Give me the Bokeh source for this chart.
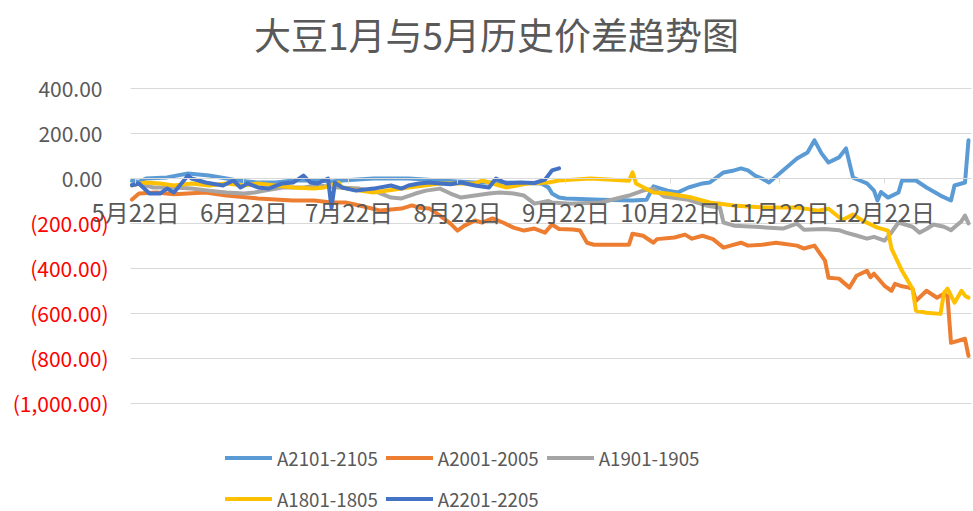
from bokeh.plotting import figure
from bokeh.models import (FixedTicker, NumeralTickFormatter, LinearAxis, Range1d,
                          Label, Legend, LegendItem)
from bokeh.embed import file_html
from bokeh.resources import INLINE

# ---- data (x = days after 5月22日) ----
month_ticks = [0, 31, 61, 92, 123, 153, 184, 214]
month_labels = ["5月22日", "6月22日", "7月22日", "8月22日", "9月22日",
                "10月22日", "11月22日", "12月22日"]
pos_ticks = [0, 200, 400]
neg_ticks = [-1000, -800, -600, -400, -200]

x_2101 = [-1, 1, 3, 9, 15, 21, 26, 29, 35, 40, 45, 51, 56, 59, 68, 78, 87, 97, 106, 116,
          118, 119, 121, 123, 133, 142, 146, 148, 152, 155, 158, 162, 164, 166, 168, 171,
          173, 175, 177, 179, 181, 185, 189, 192, 194, 196, 198, 201, 203, 205, 207, 209,
          211, 212, 213, 215, 218, 219, 223, 226, 230, 233, 234, 237, 238]
y_2101 = [-10, -15, 0, 5, 22, 13, 0, -9, -18, -18, -9, -9, -13, -9, 0, 0, -9, -18, -18, -22,
          -40, -67, -85, -89, -95, -98, -95, -35, -54, -62, -40, -22, -18, 4, 27, 36,
          45, 36, 13, 0, -18, 36, 89, 116, 170, 112, 71, 94, 134, 4, -9, -22,
          -54, -98, -60, -85, -62, -9, -9, -40, -76, -98, -31, -18, 170]

x_2001 = [-1, 1, 6, 11, 20, 26, 35, 45, 51, 56, 60, 64, 70, 76, 79, 81, 84, 87, 90, 92,
          94, 97, 99, 102, 105, 108, 111, 114, 117, 119, 121, 125, 127, 129, 131, 141, 142,
          145, 148, 149, 154, 157, 159, 162, 165, 168, 170, 173, 175, 179, 183, 189, 191,
          194, 197, 198, 201, 204, 206, 209, 210, 211, 214, 216, 217, 219, 221, 222, 223,
          226, 229, 231, 232, 233, 237, 238]
y_2001 = [-94, -67, -62, -70, -62, -76, -89, -98, -98, -107, -107, -120, -143, -134, -120,
          -130, -134, -165, -201, -232, -210, -187, -196, -178, -196, -219, -232, -223, -241,
          -205, -225, -227, -232, -286, -295, -295, -246, -255, -286, -270, -263, -250, -268,
          -255, -270, -308, -299, -286, -299, -295, -286, -299, -312, -299, -366, -442, -446,
          -486, -433, -411, -440, -424, -478, -500, -469, -480, -486, -491, -545, -500, -531,
          -513, -525, -732, -714, -790]

x_1901 = [-1, 1, 5, 11, 16, 21, 26, 31, 34, 37, 42, 48, 52, 58, 64, 68, 73, 76, 80, 83,
          87, 90, 93, 97, 101, 104, 108, 111, 114, 118, 119, 124, 133, 141, 145, 148, 151,
          158, 163, 167, 168, 171, 177, 181, 185, 189, 191, 197, 201, 203, 206, 209, 211,
          214, 216, 218, 222, 224, 226, 228, 231, 233, 236, 237, 238]
y_1901 = [-30, -22, -40, -40, -45, -54, -62, -67, -62, -54, -40, -40, -31, -40, -45, -54,
          -85, -89, -67, -54, -45, -67, -85, -76, -67, -62, -67, -76, -112, -100, -107, -112,
          -107, -76, -54, -45, -80, -95, -120, -130, -196, -210, -215, -219, -223, -201,
          -228, -225, -230, -241, -254, -268, -260, -277, -240, -196, -215, -241, -225,
          -205, -215, -230, -190, -165, -200]

x_1801 = [-1, 3, 7, 11, 16, 21, 26, 31, 35, 40, 45, 51, 54, 58, 59, 64, 68, 78, 87, 97,
          99, 106, 112, 118, 121, 125, 130, 141, 142, 143, 148, 152, 159, 164, 171, 175,
          180, 189, 195, 198, 202, 205, 208, 212, 215, 216, 219, 222, 223, 226, 230, 231,
          232, 234, 236, 237, 238]
y_1801 = [-30, -18, -22, -31, -22, -31, -22, -31, -22, -31, -40, -45, -40, -18, -40, -54,
          -62, -40, -22, -22, -9, -40, -22, -18, -9, -5, 0, -10, 27, -22, -62, -67, -85,
          -107, -120, -125, -129, -129, -143, -135, -185, -160, -190, -219, -232, -312,
          -411, -491, -589, -598, -603, -509, -491, -553, -500, -522, -531]

x_2201 = [-1, 1, 4, 7, 9, 11, 15, 16, 20, 25, 28, 30, 32, 35, 38, 42, 45, 48, 50, 52,
          55, 56, 57, 59, 63, 68, 73, 76, 78, 81, 84, 87, 90, 93, 97, 101, 103, 106, 110,
          114, 117, 119, 121]
y_2201 = [-30, -22, -67, -67, -45, -62, 13, 0, -18, -31, -9, -40, -22, -40, -45, -22, -18,
          13, -18, -22, 0, -130, -18, -40, -54, -45, -31, -45, -31, -22, -18, -22, -26, -18,
          -31, -40, 0, -22, -18, -20, -5, 36, 45]

series = [
    ("A2101-2105", x_2101, y_2101, "#5B9BD5"),
    ("A2001-2005", x_2001, y_2001, "#ED7D31"),
    ("A1901-1905", x_1901, y_1901, "#A5A5A5"),
    ("A1801-1805", x_1801, y_1801, "#FFC000"),
    ("A2201-2205", x_2201, y_2201, "#4472C4"),
]

FONT = "Noto Sans CJK SC"
GRAY = "#595959"
W, H = 973, 511
X0, X1 = -1.43, 238.9          # plot-area extent in days
Y_TOP_V, Y_BOT_V = 400, -1000  # value extent

p = figure(width=W, height=H, output_backend="svg", toolbar_location=None, title=None,
           x_range=Range1d(-38.57, 239.43), y_range=Range1d(-1483.3, 792.9),
           min_border_left=0, min_border_right=0, min_border_top=0, min_border_bottom=0)
p.outline_line_color = None
p.background_fill_color = "white"

# x axis crossing at y = 0
xa = p.xaxis[0]
xa.fixed_location = 0
xa.bounds = (X0, X1)
xa.ticker = FixedTicker(ticks=month_ticks)
xa.major_label_overrides = {t: l for t, l in zip(month_ticks, month_labels)}
xa.axis_line_color = "#D9D9D9"
xa.major_tick_line_color = "#D9D9D9"
xa.major_tick_in = 0
xa.major_tick_out = 5
xa.minor_tick_line_color = None
xa.major_label_standoff = 10
xa.major_label_text_font = FONT
xa.major_label_text_font_size = "24px"
xa.major_label_text_color = GRAY

fmt = NumeralTickFormatter(format="(0,0.00)")
# y axis: positive labels gray
ya = p.yaxis[0]
ya.fixed_location = X0
ya.bounds = (Y_BOT_V, Y_TOP_V)
ya.ticker = FixedTicker(ticks=pos_ticks)
ya.formatter = fmt
ya.axis_line_color = None
ya.major_tick_line_color = None
ya.minor_tick_line_color = None
ya.major_label_standoff = 22
ya.major_label_text_font = FONT
ya.major_label_text_font_size = "21px"
ya.major_label_text_color = GRAY

# negative labels red
ra = LinearAxis(ticker=FixedTicker(ticks=neg_ticks), formatter=fmt,
                fixed_location=X0, bounds=(Y_BOT_V, Y_TOP_V), axis_line_color=None,
                major_tick_line_color=None, minor_tick_line_color=None,
                major_label_standoff=16, major_label_text_font=FONT,
                major_label_text_font_size="21px", major_label_text_color="#FF0000")
p.add_layout(ra, "left")

p.xgrid.visible = False
g = p.ygrid[0]
g.ticker = FixedTicker(ticks=neg_ticks + pos_ticks)
g.grid_line_color = "#D9D9D9"
g.grid_line_width = 1
g.cross_bounds = (X0, X1)

items = []
for name, xs, ys, col in series:
    r = p.line(xs, ys, line_width=4, line_color=col, line_join="round", line_cap="round")
    items.append(LegendItem(label=name, renderers=[r]))

legend = Legend(items=items, location=(225, -4), orientation="horizontal", ncols=3,
                padding=0, margin=0, spacing=8, glyph_width=47, glyph_height=33,
                label_height=33, label_standoff=5, border_line_color=None,
                background_fill_alpha=0, label_text_font=FONT,
                label_text_font_size="18.7px", label_text_color=GRAY)
p.add_layout(legend, "center")

title = Label(x=496, y=478, x_units="screen", y_units="screen",
              text="大豆1月与5月历史价差趋势图", text_align="center",
              text_baseline="middle", text_font=FONT, text_font_size="37px",
              text_color=GRAY)
p.add_layout(title)

open("out.html", "w").write(file_html(p, INLINE))
